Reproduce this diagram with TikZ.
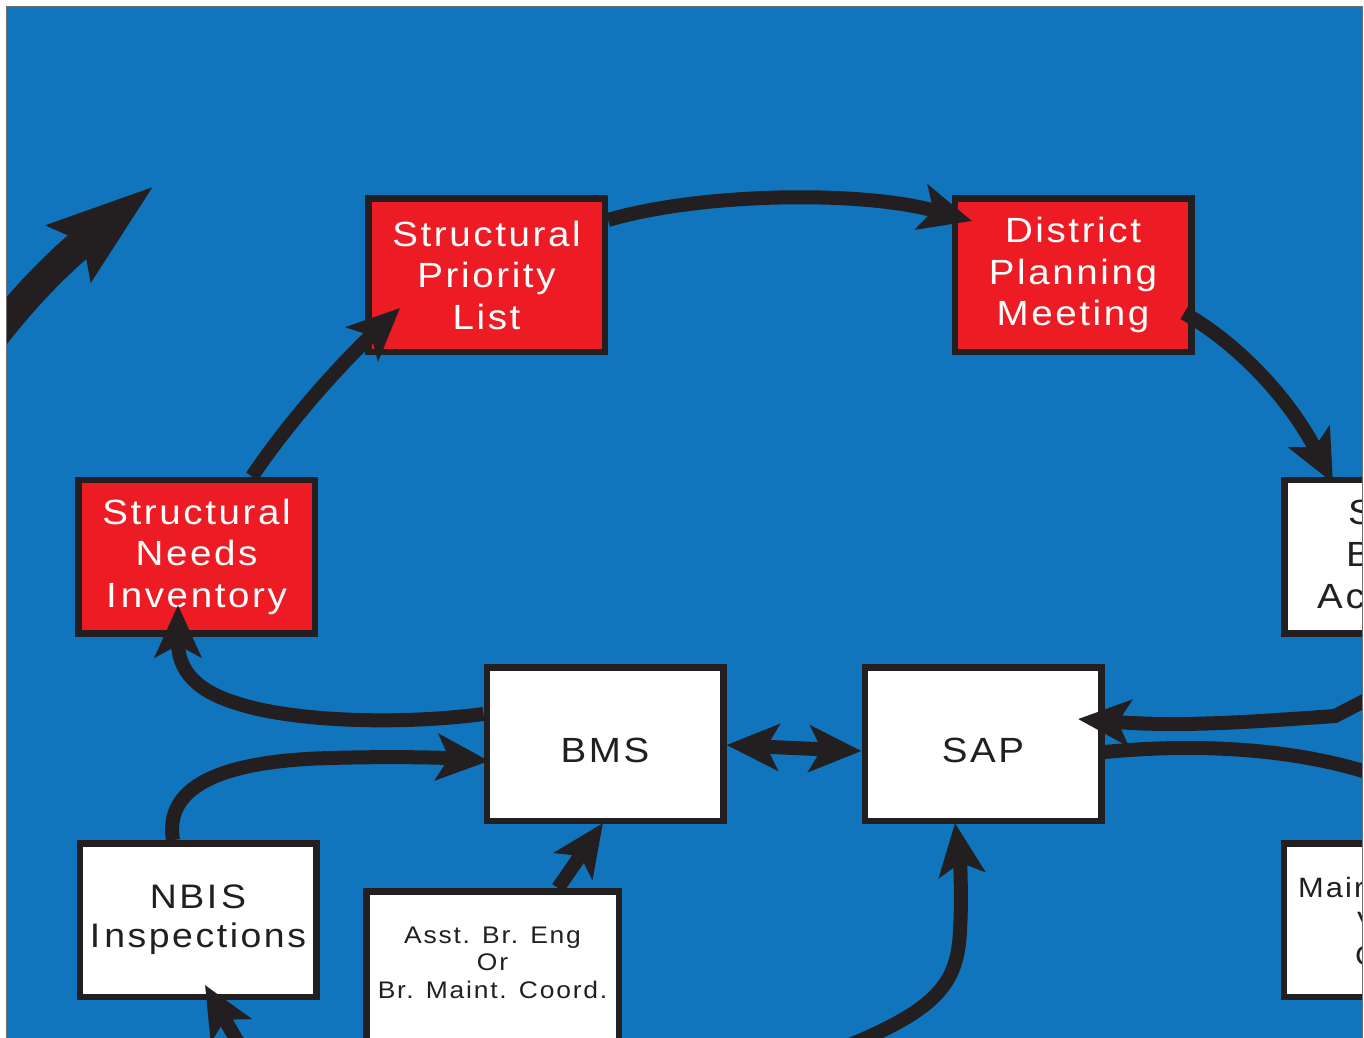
\documentclass[tikz,border=0pt]{standalone}
\usepackage{fontspec}
\setmainfont{Liberation Sans}
\newfontfamily\lsf[LetterSpace=7.5,FakeStretch=1.1]{Liberation Sans}
\usetikzlibrary{arrows.meta}
\definecolor{bgblue}{HTML}{1075BC}
\definecolor{boxred}{HTML}{ED1C24}
\definecolor{ink}{HTML}{231F20}
\definecolor{framegray}{HTML}{6D6E71}
\begin{document}
\begin{tikzpicture}[x=1pt,y=-1pt,
  box/.style={draw=ink, line width=6.5pt, minimum width=236.5pt, minimum height=153.5pt, inner sep=0pt, align=center},
  redbox/.style={box, fill=boxred, text=white, font=\lsf\fontsize{35}{41.5}\selectfont},
  whitebox/.style={box, fill=white, text=ink, font=\lsf\fontsize{35}{41.5}\selectfont},
  frag/.style={anchor=base west, inner sep=0pt, text=ink},
  flow/.style={draw=ink, line width=14pt, -{Stealth[length=52pt,width=46pt,inset=12pt]}},
  bigflow/.style={draw=ink, line width=30pt, -{Stealth[length=106pt,width=68pt,inset=16pt]}},
  plainflow/.style={draw=ink, line width=14pt}
]
\useasboundingbox (0,0) rectangle (1364,1037);
\fill[white] (0,0) rectangle (1364,1037);
\fill[bgblue] (7,7) rectangle (1362,1040);
\begin{scope}
\clip (7,7) rectangle (1362,1037);
% boxes
\node[redbox] (spl) at (486.5,275) {Structural\\Priority\\List};
\node[redbox] (dpm) at (1073,275) {District\\Planning\\Meeting};
\node[redbox] (sni) at (196.5,556.5) {Structural\\Needs\\I\kern4pt nventory};
\node[whitebox] (rone) at (1402.5,556.5) {};
\node[whitebox] (bms) at (605,744) {\raisebox{-6pt}[\height][\depth]{BMS}};
\node[whitebox] (sap) at (983,744) {\raisebox{-6pt}[\height][\depth]{SAP}};
\node[whitebox, font=\lsf\fontsize{34}{39}\selectfont] (nbis) at (198,920) {NBI\kern4pt S\\I\kern4pt nspections};
\node[whitebox] (rtwo) at (1402,920) {};
\node[box, fill=white, text=ink, minimum width=252.5pt, font=\lsf\fontsize{24}{28}\selectfont] (asst) at (492.5,968) {\raisebox{3pt}[\height][\depth]{\begin{tabular}{@{}c@{}}Asst. Br. Eng\\[-0.5pt]Or\\[-0.5pt]Br. Maint. Coord.\end{tabular}}};
% clipped fragments in right boxes
\begin{scope}[font=\lsf\fontsize{35}{41.5}\selectfont]
\node[frag] (fs) at (1348,524.5) {S};
\node[frag] (fb) at (1346,566.5) {B};
\node[frag] (fac) at (1317,608.5) {Ac};
\end{scope}
\begin{scope}[font=\lsf\fontsize{28}{34}\selectfont]
\node[frag] (fm) at (1298,897) {Mair};
\node[frag] (fv) at (1357,931) {V};
\node[frag] (fc) at (1355,965) {C};
\end{scope}
% free ends
\coordinate (tlstart) at (-25,362);
\coordinate (tltip) at (154,186);
\coordinate (rin) at (1385,690);
\coordinate (rkink) at (1335,716);
\coordinate (rout) at (1385,778);
\coordinate (botstart) at (845,1047);
\coordinate (nbisfrom) at (270,1098);
% connectors
\draw[bigflow] (tlstart) .. controls (15,305) and (58,262) .. (tltip);
\draw[flow] (sni.north -| 252,0) .. controls (290,420) and (340,365) .. (400,308);
\draw[flow] (spl.east |- 0,220) .. controls (700,193) and (860,190) .. (972,221);
\draw[flow] (1184,313) .. controls (1240,345) and (1290,400) .. (1333,483);
\draw[flow] (bms.west |- 0,714) .. controls (400,725) and (290,722) .. (233,702) .. controls (190,688) and (178,665) .. (178,605);
\draw[flow] (nbis.north -| 173,0) .. controls (162,775) and (250,760) .. (330,758) .. controls (400,756) and (450,758) .. (489,761);
\draw[draw=ink, line width=14pt, {Stealth[length=52pt,width=46pt,inset=12pt]}-{Stealth[length=52pt,width=46pt,inset=12pt]}] (bms.east |- 0,745) -- (sap.west |- 0,751);
\draw[flow] (rin) -- (rkink) .. controls (1250,722) and (1180,727) .. (1078,719);
\draw[plainflow] (sap.east |- 0,752) .. controls (1200,743) and (1300,748) .. (rout);
\draw[flow] (asst.north -| 558,0) -- (603,823);
\draw[flow] (botstart) .. controls (935,1010) and (958,985) .. (960,930) .. controls (962,900) and (960,860) .. (955,823);
\draw[flow] (nbisfrom) -- (205,985);
\end{scope}
\draw[framegray, line width=1.5pt] (6.5,1040) -- (6.5,6.5) -- (1362.5,6.5) -- (1362.5,1040);
\end{tikzpicture}
\end{document}
